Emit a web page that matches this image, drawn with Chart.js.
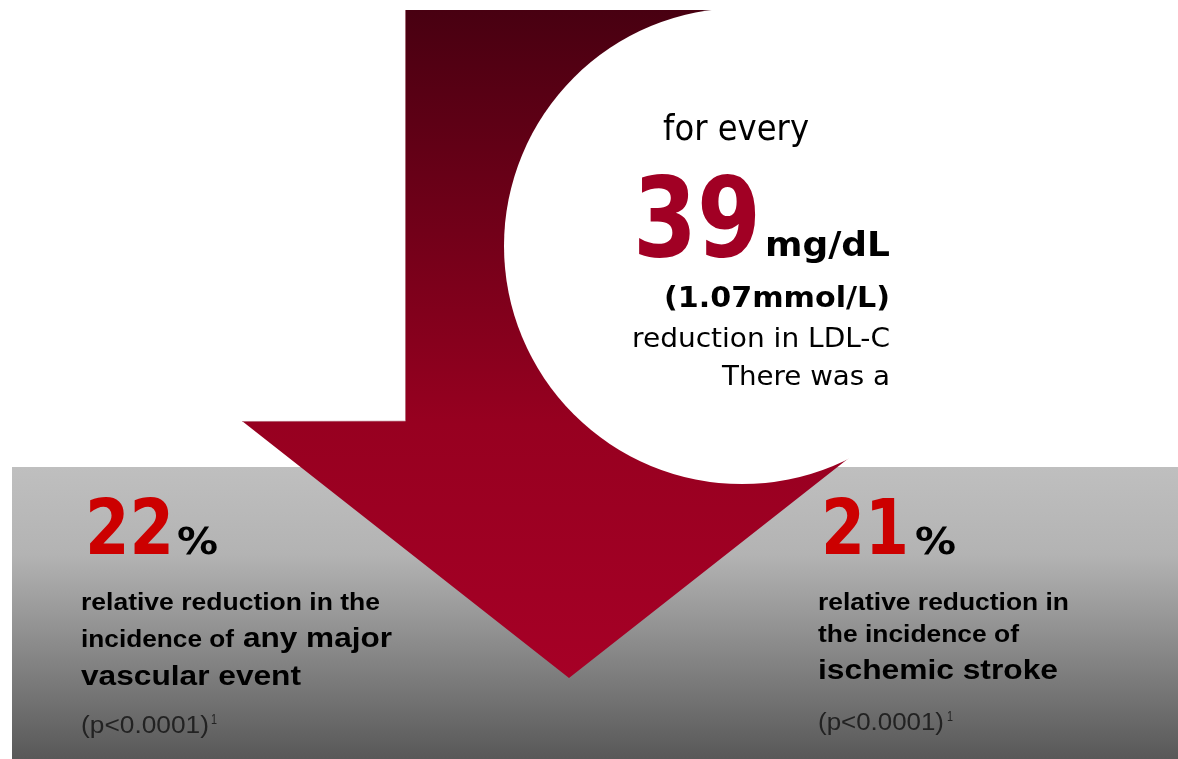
<!DOCTYPE html>
<html>
<head>
<meta charset="utf-8">
<script src="https://cdn.jsdelivr.net/npm/chart.js@4/dist/chart.umd.min.js"></script>
<style>
  html, body { margin: 0; padding: 0; background: #fff; }
  #wrap { width: 1178px; height: 759px; position: relative; }
</style>
</head>
<body>
<div id="wrap"><canvas id="ldlChart"></canvas></div>
<script>
const outcomes = ["any major vascular event", "ischemic stroke"];
const reductionPct = [22, 21];
const pValues = ["p<0.0001", "p<0.0001"];
const ldlDropMgdl = [39];
const ldlDropMmol = [1.07];

// draw text squeezed/stretched to a given width
function fitText(ctx, text, x, y, font, color, width) {
    ctx.font = font;
    ctx.fillStyle = color;
    ctx.textAlign = "left";
    ctx.textBaseline = "alphabetic";
    let w = ctx.measureText(text).width;
    ctx.save();
    ctx.translate(x, y);
    ctx.scale(width / w, 1);
    ctx.fillText(text, 0, 0);
    ctx.restore();
}

const infographic = {
    id: "infographic",
    beforeDatasetsDraw(chart) {
        let ctx = chart.ctx;
        let X = v => chart.scales.x.getPixelForValue(v);
        let Y = v => chart.scales.y.getPixelForValue(v);

        // grey panel
        let g = ctx.createLinearGradient(0, Y(467), 0, Y(759));
        g.addColorStop(0, "#bfbfbf");
        g.addColorStop(0.3, "#b3b3b3");
        g.addColorStop(1, "#585858");
        ctx.fillStyle = g;
        ctx.fillRect(X(12), Y(467), X(1178) - X(12), Y(759) - Y(467));

        // down arrow
        let a = ctx.createLinearGradient(0, Y(10), 0, Y(678));
        a.addColorStop(0, "#480011");
        a.addColorStop(0.62, "#970020");
        a.addColorStop(1, "#a60026");
        ctx.fillStyle = a;
        ctx.beginPath();
        ctx.moveTo(X(405), Y(10));
        ctx.lineTo(X(733), Y(10));
        ctx.lineTo(X(733), Y(421));
        ctx.lineTo(X(896), Y(421));
        ctx.lineTo(X(569), Y(678));
        ctx.lineTo(X(242), Y(421));
        ctx.lineTo(X(405), Y(421));
        ctx.closePath();
        ctx.fill();
        // faint edge on the shaft
        ctx.strokeStyle = "rgba(200,150,160,0.7)";
        ctx.lineWidth = 1;
        ctx.beginPath();
        ctx.moveTo(X(405) + 0.5, Y(10));
        ctx.lineTo(X(405) + 0.5, Y(421));
        ctx.lineTo(X(242), Y(421) + 0.5);
        ctx.stroke();

        // white circle bite
        ctx.fillStyle = "#ffffff";
        ctx.beginPath();
        ctx.arc(X(742), Y(246), X(742) - X(504), 0, Math.PI * 2);
        ctx.fill();
    },
    afterDatasetsDraw(chart) {
        let ctx = chart.ctx;
        let tahoma = "'DejaVu Sans', Verdana, sans-serif";
        let arial = "'Liberation Sans', Arial, sans-serif";

        // circle text
        fitText(ctx, "for every", 663, 140, "35px " + tahoma, "#000", 146);
        fitText(ctx, String(ldlDropMgdl[0]), 633, 256, "bold 110px " + tahoma, "#a10024", 128);
        fitText(ctx, "mg/dL", 765, 256, "bold 34px " + tahoma, "#000", 125);
        fitText(ctx, "(" + ldlDropMmol[0].toFixed(2) + "mmol/L)", 664, 307, "bold 28px " + tahoma, "#000", 226);
        fitText(ctx, "reduction in LDL-C", 632, 347, "27px " + tahoma, "#000", 258);
        fitText(ctx, "There was a", 722, 385, "27px " + tahoma, "#000", 168);

        // left block
        fitText(ctx, String(reductionPct[0]), 85, 554, "bold 77px " + tahoma, "#cc0000", 89);
        fitText(ctx, "%", 177, 554, "bold 38px " + tahoma, "#000", 41);
        fitText(ctx, "relative reduction in the", 81, 610, "bold 24px " + arial, "#000", 299);
        fitText(ctx, "incidence of", 81, 647, "bold 24px " + arial, "#000", 153);
        fitText(ctx, "any major", 243, 647, "bold 28px " + arial, "#000", 149);
        fitText(ctx, "vascular event", 81, 685, "bold 28px " + arial, "#000", 220);
        fitText(ctx, "(" + pValues[0] + ")", 81, 733, "23px " + arial, "#222", 128);
        fitText(ctx, "1", 211, 724, "14px " + arial, "#222", 6);

        // right block
        fitText(ctx, String(reductionPct[1]), 821, 554, "bold 77px " + tahoma, "#cc0000", 88);
        fitText(ctx, "%", 915, 554, "bold 38px " + tahoma, "#000", 41);
        fitText(ctx, "relative reduction in", 818, 610, "bold 24px " + arial, "#000", 251);
        fitText(ctx, "the incidence of", 818, 642, "bold 24px " + arial, "#000", 201);
        fitText(ctx, "ischemic stroke", 818, 679, "bold 28px " + arial, "#000", 240);
        fitText(ctx, "(" + pValues[1] + ")", 818, 730, "23px " + arial, "#222", 126);
        fitText(ctx, "1", 947, 721, "14px " + arial, "#222", 6);
    }
};

new Chart(document.getElementById("ldlChart").getContext("2d"), {
    type: "scatter",
    data: {
        labels: outcomes,
        datasets: [{
            label: "Relative reduction (%)",
            data: [],
            pointRadius: 0
        }]
    },
    options: {
        responsive: true,
        maintainAspectRatio: false,
        animation: false,
        layout: { padding: 0 },
        scales: {
            x: { type: "linear", min: 0, max: 1178, display: false },
            y: { type: "linear", min: 0, max: 759, reverse: true, display: false }
        },
        plugins: {
            legend: { display: false },
            tooltip: { enabled: false }
        }
    },
    plugins: [infographic]
});
</script>
</body>
</html>
